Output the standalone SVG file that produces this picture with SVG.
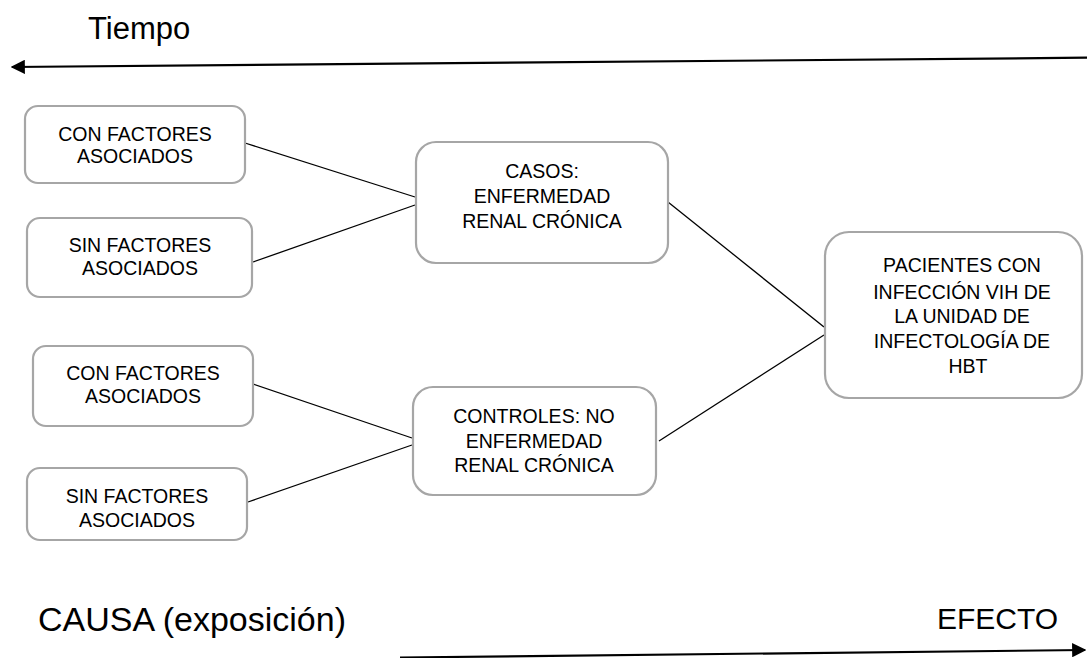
<svg xmlns="http://www.w3.org/2000/svg" width="1087" height="658" viewBox="0 0 1087 658">
<defs>
<style>
.box{fill:#ffffff;stroke:#a6a6a6;stroke-width:2.2}
.t{font-family:"Liberation Sans",Arial,sans-serif;font-size:19.5px;fill:#000;text-anchor:middle}
.big{font-family:"Liberation Sans",Arial,sans-serif;fill:#000}
.ln{stroke:#000;stroke-width:1.3;fill:none}
.ax{stroke:#000;stroke-width:2.2;fill:none}
</style>
<marker id="ah" viewBox="0 0 10 10" refX="9" refY="5" markerWidth="6.5" markerHeight="6.5" markerUnits="strokeWidth" orient="auto">
<path d="M0,0 L10,5 L0,10 z" fill="#000"/>
</marker>
</defs>
<rect width="1087" height="658" fill="#ffffff"/>
<g id="connectors">
<line class="ax" x1="1087" y1="57.7" x2="12" y2="67" marker-end="url(#ah)"/>
<line class="ax" x1="400" y1="657.5" x2="1085" y2="650" marker-end="url(#ah)"/>
<line class="ln" x1="245" y1="143" x2="415" y2="197"/>
<line class="ln" x1="253" y1="262" x2="415" y2="205"/>
<line class="ln" x1="668" y1="202" x2="824" y2="327"/>
<line class="ln" x1="659" y1="441" x2="824" y2="335"/>
<line class="ln" x1="253" y1="384" x2="412" y2="438"/>
<line class="ln" x1="248" y1="502" x2="412" y2="445"/>
</g>
<g id="label-tiempo"><text class="big" x="88" y="39" font-size="31">Tiempo</text></g>
<g id="label-causa"><text class="big" x="38" y="631" font-size="34">CAUSA (exposición)</text></g>
<g id="label-efecto"><text class="big" x="937" y="629" font-size="30">EFECTO</text></g>
<g id="n1">
<rect class="box" x="25" y="106" width="220" height="77" rx="13"/>
<text class="t" x="135" y="141">CON FACTORES</text>
<text class="t" x="135" y="163">ASOCIADOS</text>
</g>
<g id="n2">
<rect class="box" x="27" y="218" width="225" height="79" rx="13"/>
<text class="t" x="140" y="252">SIN FACTORES</text>
<text class="t" x="140" y="275">ASOCIADOS</text>
</g>
<g id="n3">
<rect class="box" x="33" y="346" width="220" height="80" rx="13"/>
<text class="t" x="143" y="380">CON FACTORES</text>
<text class="t" x="143" y="403">ASOCIADOS</text>
</g>
<g id="n4">
<rect class="box" x="27" y="468" width="220" height="72" rx="13"/>
<text class="t" x="137" y="503">SIN FACTORES</text>
<text class="t" x="137" y="527">ASOCIADOS</text>
</g>
<g id="casos">
<rect class="box" x="416" y="142" width="252" height="121" rx="20"/>
<text class="t" x="542" y="178">CASOS:</text>
<text class="t" x="542" y="203">ENFERMEDAD</text>
<text class="t" x="542" y="228">RENAL CRÓNICA</text>
</g>
<g id="controles">
<rect class="box" x="413" y="387" width="243" height="108" rx="20"/>
<text class="t" x="534" y="423">CONTROLES: NO</text>
<text class="t" x="534" y="448">ENFERMEDAD</text>
<text class="t" x="534" y="472">RENAL CRÓNICA</text>
</g>
<g id="pacientes">
<rect class="box" x="825" y="232" width="257" height="166" rx="24"/>
<text class="t" x="962" y="272">PACIENTES CON</text>
<text class="t" x="962" y="299">INFECCIÓN VIH DE</text>
<text class="t" x="962" y="323">LA UNIDAD DE</text>
<text class="t" x="962" y="348">INFECTOLOGÍA DE</text>
<text class="t" x="968" y="373">HBT</text>
</g>
</svg>
